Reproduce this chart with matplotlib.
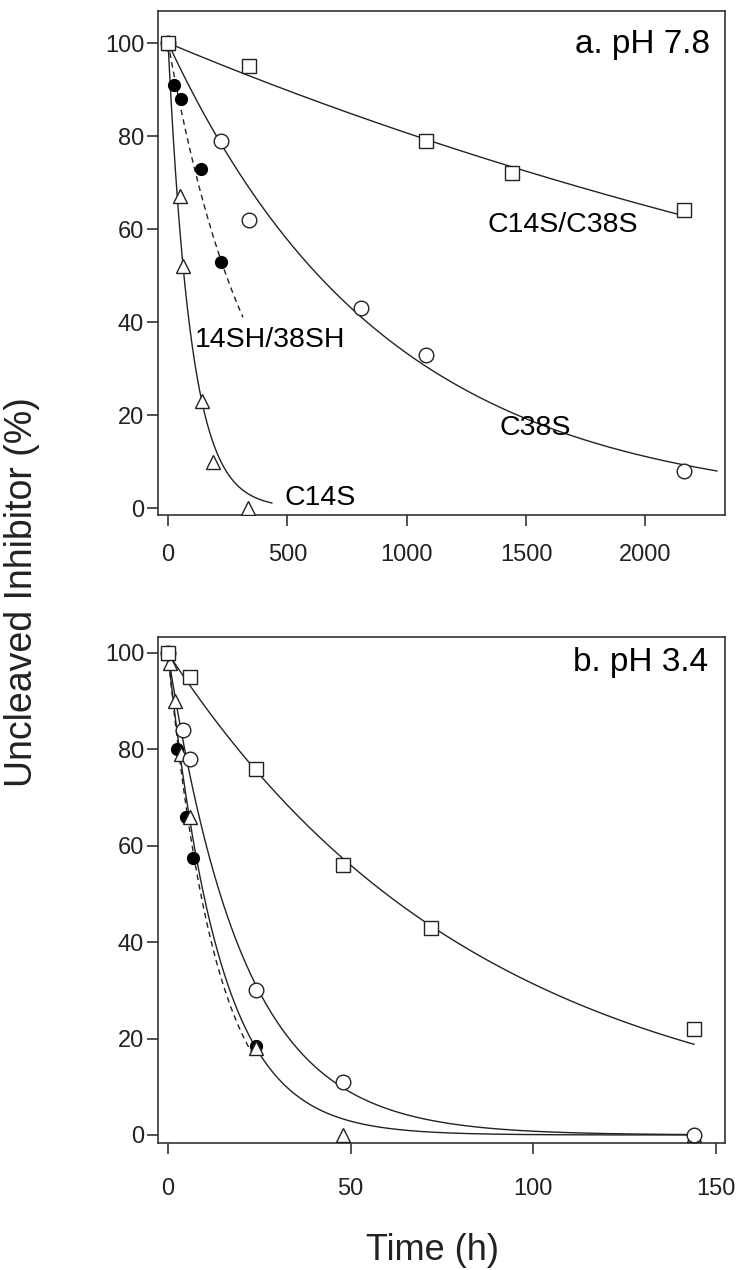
import numpy as np
import matplotlib.pyplot as plt

plt.rcParams['font.family'] = ['Liberation Sans', 'DejaVu Sans']

# ---- panel a, pH 7.8 : time (h) vs uncleaved inhibitor (%)
a_t_dm = [0, 340, 1080, 1440, 2160]
a_y_dm = [100, 95, 79, 72, 64]
a_t_c38 = [0, 220, 340, 810, 1080, 2160]
a_y_c38 = [100, 79, 62, 43, 33, 8]
a_t_sh = [0, 25, 55, 140, 220]
a_y_sh = [100, 91, 88, 73, 53]
a_t_c14 = [0, 48, 64, 141, 190, 334]
a_y_c14 = [100, 67, 52, 23, 10, 0]
# first-order fits (rate 1/h, last time of curve): C14S/C38S, C38S, 14SH/38SH, C14S
a_fit_k = [2.15e-4, 1.1e-3, 2.84e-3, 1.04e-2]
a_fit_end = [2160, 2300, 314, 435]

# ---- panel b, pH 3.4
b_t_dm = [0, 6, 24, 48, 72, 144]
b_y_dm = [100, 95, 76, 56, 43, 22]
b_t_c38 = [0, 4, 6, 24, 48, 144]
b_y_c38 = [100, 84, 78, 30, 11, 0]
b_t_sh = [0, 2.5, 5, 7, 24]
b_y_sh = [100, 80, 66, 57.5, 18.5]
b_t_c14 = [0, 0.5, 2, 3.5, 6, 24, 48, 144]
b_y_c14 = [100, 98, 90, 79, 66, 18, 0, 0]
b_fit_k = [0.0116, 0.0485, 0.077, 0.071]
b_fit_end = [144, 144, 24, 144]

LW = 1.0


def draw_panel(ax, data, fit_k, fit_end, xpad):
    (t_dm, y_dm), (t_c38, y_c38), (t_sh, y_sh), (t_c14, y_c14) = data
    styles = ['-', '-', '--', '-']
    for k, t_end, ls in zip(fit_k, fit_end, styles):
        t = np.linspace(0, t_end, 300)
        ax.plot(t, 100 * np.exp(-k * t), color='#222222', lw=LW, ls=ls,
                dashes=(4, 3) if ls == '--' else (None, None), zorder=2)
    ax.plot(t_sh, y_sh, 'o', ms=8.5, mfc='black', mec='black', zorder=3)
    ax.plot(t_c14, y_c14, '^', ms=10, mfc='white', mec='#222222', mew=1.0, zorder=4)
    ax.plot(t_c38, y_c38, 'o', ms=10.5, mfc='white', mec='#222222', mew=1.0, zorder=5)
    ax.plot(t_dm, y_dm, 's', ms=9.5, mfc='white', mec='#222222', mew=1.0, zorder=6)

    for s in ax.spines.values():
        s.set_linewidth(1.2)
        s.set_color('#333333')
    ax.tick_params(direction='out', length=8, width=1.1, labelsize=17,
                   top=False, right=False, colors='#222222')
    ax.tick_params(axis='y', pad=2)
    ax.tick_params(axis='x', pad=xpad)
    ax.set_yticks(np.arange(0, 101, 20))


fig = plt.figure(figsize=(7.5, 12.7), dpi=100)
ax_a = fig.add_axes([0.2107, 0.5945, 0.756, 0.3969])
ax_b = fig.add_axes([0.2107, 0.1, 0.756, 0.3984])

draw_panel(ax_a, [(a_t_dm, a_y_dm), (a_t_c38, a_y_c38), (a_t_sh, a_y_sh), (a_t_c14, a_y_c14)],
           a_fit_k, a_fit_end, 13)
ax_a.set_xlim(-42, 2334)
ax_a.set_ylim(-1.5, 106.9)
ax_a.set_xticks([0, 500, 1000, 1500, 2000])
ax_a.text(2270, 97.8, 'a. pH 7.8', fontsize=24, ha='right', va='baseline')
ax_a.text(1337, 59.4, 'C14S/C38S', fontsize=20.5, ha='left', va='baseline')
ax_a.text(1391, 15.7, 'C38S', fontsize=20.5, ha='left', va='baseline')
ax_a.text(113, 34.6, '14SH/38SH', fontsize=20.5, ha='left', va='baseline')
ax_a.text(490, 0.6, 'C14S', fontsize=20.5, ha='left', va='baseline')

draw_panel(ax_b, [(b_t_dm, b_y_dm), (b_t_c38, b_y_c38), (b_t_sh, b_y_sh), (b_t_c14, b_y_c14)],
           b_fit_k, b_fit_end, 17)
ax_b.set_xlim(-2.7, 152.5)
ax_b.set_ylim(-1.66, 103.3)
ax_b.set_xticks([0, 50, 100, 150])
ax_b.text(148, 96.2, 'b. pH 3.4', fontsize=24, ha='right', va='baseline')

fig.text(0.029, 0.534, 'Uncleaved Inhibitor (%)', fontsize=27, rotation=90,
         ha='center', va='center', color='#222222')
fig.text(0.577, 0.008, 'Time (h)', fontsize=26, ha='center', va='baseline',
         color='#222222')

fig.savefig('out.png', dpi=100)
